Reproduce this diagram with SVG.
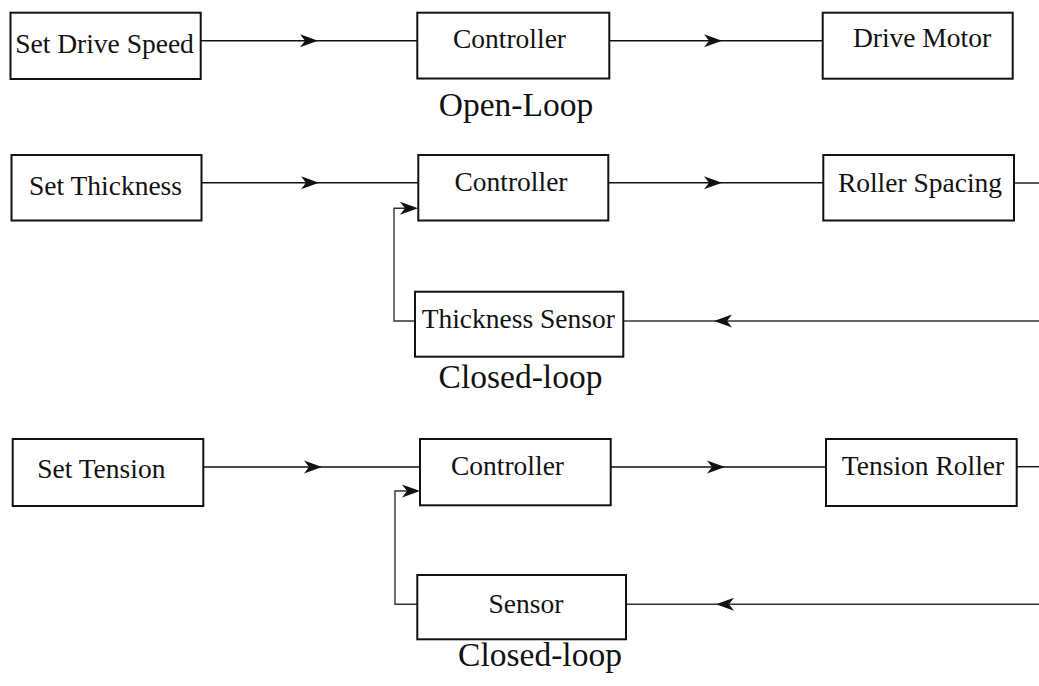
<svg xmlns="http://www.w3.org/2000/svg" width="1039" height="686" viewBox="0 0 1039 686">
  <style>
    .box { fill: #fff; stroke: #111; stroke-width: 2; }
    .lbl { font-family: "Liberation Serif", "DejaVu Serif", serif; font-size: 27.5px; fill: #111; text-anchor: middle; }
    .cap { font-family: "Liberation Serif", "DejaVu Serif", serif; font-size: 33.5px; fill: #111; text-anchor: middle; }
    .wire { fill: none; stroke: #111; stroke-width: 1.4; }
    .fb { fill: none; stroke: #333; stroke-width: 1.4; }
    .head { fill: #111; stroke: none; }
  </style>
  <defs>
    <!-- barbed arrowhead, tip at origin pointing right -->
    <path id="arrowR" d="M0,0 L-18,-6.5 L-13,0 L-18,6.5 Z"/>
    <path id="arrowL" d="M0,0 L18,-6.5 L13,0 L18,6.5 Z"/>
  </defs>

  <rect width="1039" height="686" fill="#fff"/>

  <!-- connectors -->
  <g id="connectors">
    <!-- open loop -->
    <line class="wire" x1="201" y1="40.7" x2="417" y2="40.7"/>
    <use href="#arrowR" class="head" x="318" y="40.7"/>
    <line class="wire" x1="609" y1="40.7" x2="823" y2="40.7"/>
    <use href="#arrowR" class="head" x="722" y="40.7"/>

    <!-- thickness loop -->
    <line class="wire" x1="202" y1="182.7" x2="418" y2="182.7"/>
    <use href="#arrowR" class="head" x="319" y="182.7"/>
    <line class="wire" x1="608" y1="182.7" x2="823" y2="182.7"/>
    <use href="#arrowR" class="head" x="722" y="182.7"/>
    <line class="wire" x1="1014" y1="183" x2="1039" y2="183"/>
    <line class="fb" x1="1039" y1="321" x2="623" y2="321"/>
    <use href="#arrowL" class="head" x="714" y="321"/>
    <polyline class="fb" points="415,321 394,321 394,208.3 408,208.3"/>
    <use href="#arrowR" class="head" x="418" y="208.3"/>

    <!-- tension loop -->
    <line class="wire" x1="203.3" y1="467" x2="420" y2="467"/>
    <use href="#arrowR" class="head" x="322" y="467"/>
    <line class="wire" x1="610.7" y1="467" x2="826" y2="467"/>
    <use href="#arrowR" class="head" x="725" y="467"/>
    <line class="wire" x1="1016.7" y1="466.7" x2="1039" y2="466.7"/>
    <line class="fb" x1="1039" y1="604.3" x2="626" y2="604.3"/>
    <use href="#arrowL" class="head" x="716" y="604.3"/>
    <polyline class="fb" points="417.3,604.3 395,604.3 395,491 410,491"/>
    <use href="#arrowR" class="head" x="420" y="491"/>
  </g>

  <!-- open loop nodes -->
  <g id="set-drive-speed">
    <rect class="box" x="10.5" y="12.7" width="190.2" height="66.3"/>
    <text class="lbl" x="104.5" y="53">Set Drive Speed</text>
  </g>
  <g id="controller-1">
    <rect class="box" x="417.3" y="12.7" width="192" height="65.8"/>
    <text class="lbl" x="509.5" y="48.3">Controller</text>
  </g>
  <g id="drive-motor">
    <rect class="box" x="822.7" y="12.7" width="190" height="66"/>
    <text class="lbl" x="922" y="47">Drive Motor</text>
  </g>
  <text class="cap" x="516" y="116">Open-Loop</text>

  <!-- thickness loop nodes -->
  <g id="set-thickness">
    <rect class="box" x="11.5" y="155" width="190" height="65.5"/>
    <text class="lbl" x="105.5" y="195">Set Thickness</text>
  </g>
  <g id="controller-2">
    <rect class="box" x="418.3" y="155" width="190" height="65.5"/>
    <text class="lbl" x="511" y="191">Controller</text>
  </g>
  <g id="roller-spacing">
    <rect class="box" x="823.3" y="155" width="190.7" height="65.5"/>
    <text class="lbl" x="920" y="191.7">Roller Spacing</text>
  </g>
  <g id="thickness-sensor">
    <rect class="box" x="415" y="291.7" width="208.3" height="65"/>
    <text class="lbl" x="518.3" y="328.3">Thickness Sensor</text>
  </g>
  <text class="cap" x="520.5" y="388.3">Closed-loop</text>

  <!-- tension loop nodes -->
  <g id="set-tension">
    <rect class="box" x="12.7" y="439" width="190.6" height="67"/>
    <text class="lbl" x="101.3" y="478.3">Set Tension</text>
  </g>
  <g id="controller-3">
    <rect class="box" x="420" y="439" width="190.7" height="66.3"/>
    <text class="lbl" x="507.5" y="475">Controller</text>
  </g>
  <g id="tension-roller">
    <rect class="box" x="826" y="439" width="190.7" height="67"/>
    <text class="lbl" x="923" y="475">Tension Roller</text>
  </g>
  <g id="sensor">
    <rect class="box" x="417.3" y="575" width="208.7" height="64.3"/>
    <text class="lbl" x="526" y="613.3">Sensor</text>
  </g>
  <text class="cap" x="540" y="666">Closed-loop</text>
</svg>
